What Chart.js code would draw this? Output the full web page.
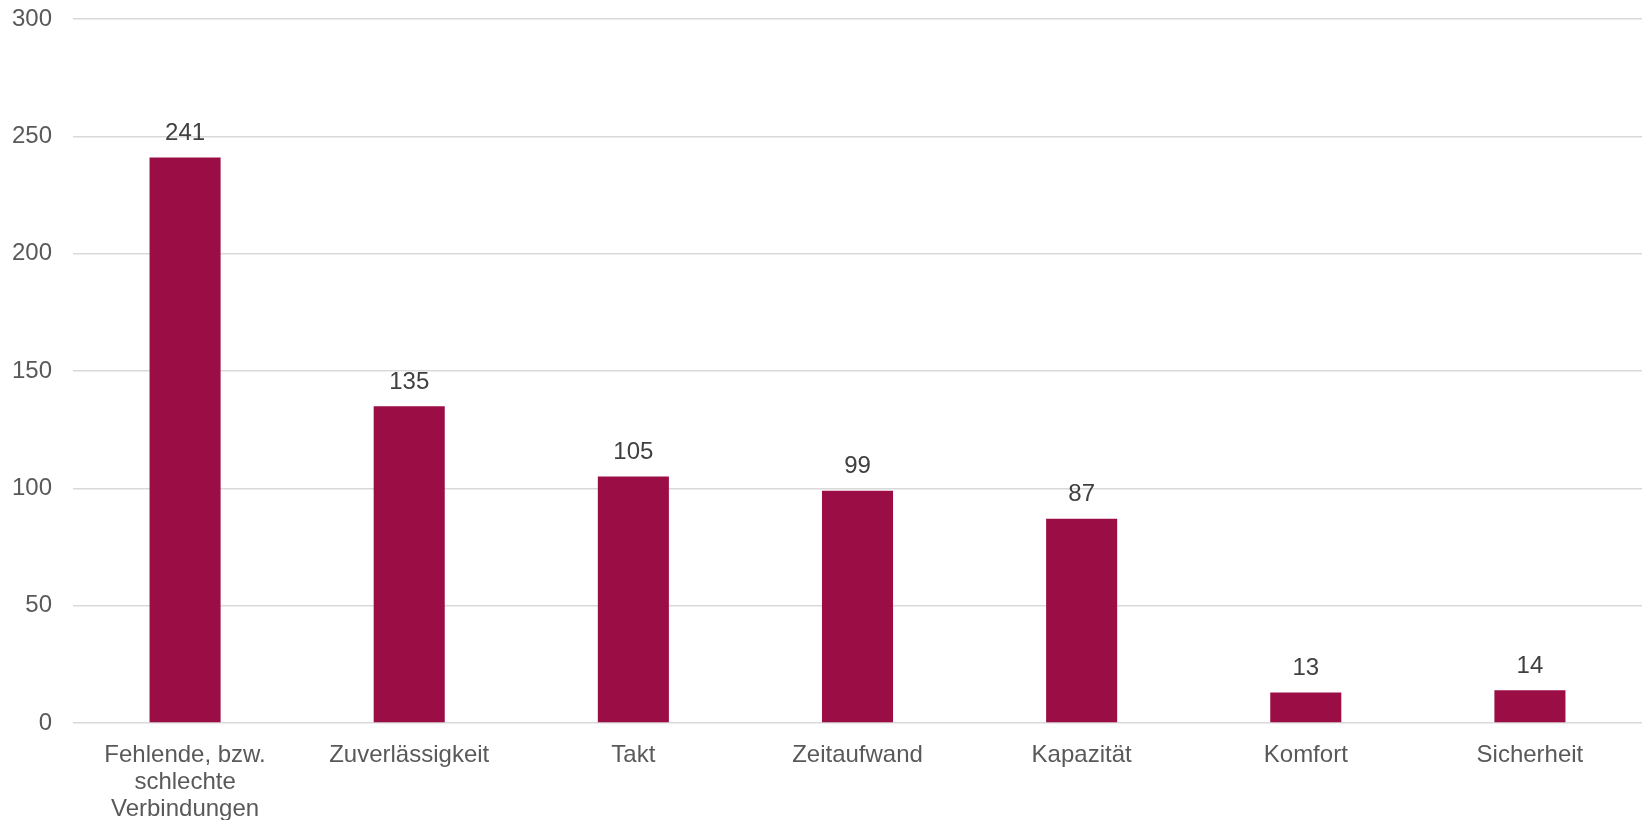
<!DOCTYPE html>
<html>
<head>
<meta charset="utf-8">
<script src="https://cdn.jsdelivr.net/npm/chart.js@4/dist/chart.umd.min.js"></script>
<style>
  html, body { margin: 0; padding: 0; background: #fff; }
  #wrap { width: 1647px; height: 820px; }
</style>
</head>
<body>
<div id="wrap"><canvas id="chart" width="1647" height="820"></canvas></div>
<script>
const categories = [
  ['Fehlende, bzw.', 'schlechte', 'Verbindungen'],
  'Zuverlässigkeit',
  'Takt',
  'Zeitaufwand',
  'Kapazität',
  'Komfort',
  'Sicherheit'
];
const counts = [241, 135, 105, 99, 87, 13, 14];
const yMin = 0;
const yMax = 300;
const yStep = 50;

const barColor = '#9b0d45';
const fontFamily = '"Liberation Sans", Arial, sans-serif';

// Wertbeschriftungen über den Balken
const valueLabels = {
  id: 'valueLabels',
  afterDatasetsDraw(chart) {
    const ctx = chart.ctx;
    const meta = chart.getDatasetMeta(0);
    ctx.save();
    ctx.font = '24px ' + fontFamily;
    ctx.fillStyle = '#404040';
    ctx.textAlign = 'center';
    ctx.textBaseline = 'middle';
    meta.data.forEach((bar, i) => {
      ctx.fillText(String(counts[i]), bar.x, bar.y - 24);
    });
    ctx.restore();
  }
};

new Chart(document.getElementById('chart'), {
  type: 'bar',
  data: {
    labels: categories,
    datasets: [{
      data: counts,
      backgroundColor: barColor,
      borderWidth: 0,
      categoryPercentage: 1,
      barPercentage: 0.317
    }]
  },
  options: {
    responsive: false,
    animation: false,
    layout: { padding: { top: 19, right: 5, left: 0, bottom: 0 } },
    plugins: {
      legend: { display: false },
      tooltip: { enabled: false }
    },
    scales: {
      x: {
        grid: { display: false },
        border: { display: false },
        ticks: {
          color: '#595959',
          font: { family: fontFamily, size: 24, lineHeight: 1.13 },
          padding: 11,
          maxRotation: 0,
          autoSkip: false
        },
        afterFit(scale) {
          scale.height = 97;
          scale.paddingLeft = 0;
          scale.paddingRight = 0;
        }
      },
      y: {
        min: yMin,
        max: yMax,
        grid: { color: '#d9d9d9', lineWidth: 1.5, drawTicks: false },
        border: { display: false },
        ticks: {
          stepSize: yStep,
          color: '#595959',
          font: { family: fontFamily, size: 24 },
          padding: 21
        },
        afterFit(scale) {
          scale.width = 73;
          scale.paddingTop = 0;
          scale.paddingBottom = 0;
        }
      }
    }
  },
  plugins: [valueLabels]
});
</script>
</body>
</html>
